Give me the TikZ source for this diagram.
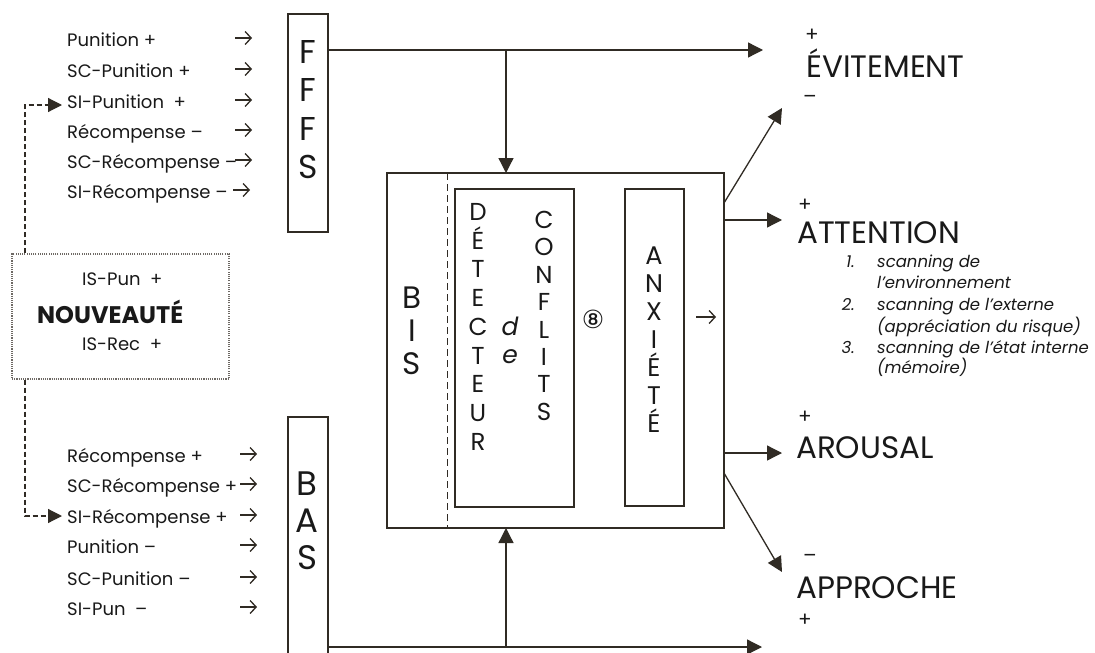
\documentclass[tikz,border=0pt]{standalone}
\usepackage{fontspec}
\setmainfont{Poppins}
\newfontfamily\dejavu{DejaVu Sans}
\usetikzlibrary{arrows.meta}
\definecolor{ink}{RGB}{48,43,36}
\definecolor{txt}{RGB}{25,25,25}
\definecolor{dotc}{RGB}{110,105,100}
\begin{document}
\begin{tikzpicture}[x=1pt,y=-1pt,
  box/.style={draw=ink,line width=1.3pt,inner sep=0pt,outer sep=0pt},
  arr/.style={draw=ink,line width=1.3pt,-{Triangle[length=15pt,width=15pt]}},
  sarr/.style={draw=ink,line width=1.3pt,-{Straight Barb[length=6pt,width=13pt,line width=1.3pt]}},
  dsh/.style={draw=ink,line width=1.2pt,dash pattern=on 5pt off 3pt,-{Triangle[length=14pt,width=14pt]}},
  lst/.style={text=txt,inner sep=0pt,anchor=base west,font=\fontsize{18}{20}\selectfont},
  stk/.style={text=txt,inner sep=0pt,anchor=base},
  big/.style={text=txt,inner sep=0pt,anchor=base west,font=\fontsize{31}{33}\selectfont},
  sgn/.style={text=txt,inner sep=0pt,font=\fontsize{20}{22}\selectfont},
  itl/.style={text=txt,inner sep=0pt,font=\itshape\fontsize{16.5}{19}\selectfont}
]
\fill[white] (0,0) rectangle (1095,653);
\useasboundingbox (0,0) rectangle (1095,653);

% main boxes
\node[box,minimum width=40pt,minimum height=218pt] (fffs) at (308,123) {};
\node[box,minimum width=40pt,minimum height=253pt] (bas) at (308,543.5) {};
\node[box,minimum width=337pt,minimum height=355pt] (bigb) at (555.5,350.5) {};
\node[box,minimum width=119pt,minimum height=318pt] (det) at (514.5,348) {};
\node[box,minimum width=59pt,minimum height=317pt] (anx) at (654.5,347.5) {};
\node[draw=dotc,line width=1.1pt,dash pattern=on 1.1pt off 1.1pt,inner sep=0pt,
      minimum width=217pt,minimum height=125pt] (nouv) at (120.5,316.5) {};

% BIS dashed separator
\coordinate (bisx) at (447,0);
\draw[draw=ink,line width=1pt,dash pattern=on 7pt off 4pt] (bisx |- bigb.north) -- (bisx |- bigb.south);

% stacked letters
\foreach \ch [count=\i from 0] in {F,F,F,S}
  \node[stk,font=\fontsize{33}{34}\selectfont] (ff\i) at (308,{63.5+38.3*\i}) {\ch};
\foreach \ch [count=\i from 0] in {B,A,S}
  \node[stk,font=\fontsize{34}{35}\selectfont] (ba\i) at (307,{495+37*\i}) {\ch};
\foreach \ch [count=\i from 0] in {B,I,S}
  \node[stk,font=\fontsize{31}{32}\selectfont] (bi\i) at (412,{308+33*\i}) {\ch};
\foreach \ch [count=\i from 0] in {D,É,T,E,C,T,E,U,R}
  \node[stk,font=\fontsize{24.5}{26}\selectfont] (dt\i) at (478,{220.5+28.7*\i}) {\ch};
\foreach \ch [count=\i from 0] in {C,O,N,F,L,I,T,S}
  \node[stk,font=\fontsize{24.5}{26}\selectfont] (cf\i) at (544,{228.5+27.4*\i}) {\ch};
\foreach \ch [count=\i from 0] in {A,N,X,I,É,T,É}
  \node[stk,font=\fontsize{25.5}{27}\selectfont] (ax\i) at (654,{264+28*\i}) {\ch};
\node[stk,font=\itshape\fontsize{25}{26}\selectfont] (dd) at (510,335) {d};
\node[stk,font=\itshape\fontsize{25}{26}\selectfont] (ee) at (510,363) {e};
\node[text=txt,inner sep=0pt,font=\dejavu\fontsize{25}{26}\selectfont] (huit) at (593,319) {⑧};
\coordinate (anxarr) at (706,317);
\draw[sarr] ([xshift=-10pt]anxarr) -- ([xshift=10pt]anxarr);

% left lists
\foreach \yy/\tx/\ax [count=\i] in {46/Punition +/243.5,77/SC-Punition +/243.5,108/SI-Punition \ +/243.5,138/Récompense –/243.5,168/SC-Récompense –/243.5,198/SI-Récompense – /241.5}{
  \node[lst] (t\i) at (67,\yy) {\tx};
  \coordinate (ta\i) at (\ax,{\yy-8});
  \draw[sarr] ([xshift=-8.5pt]ta\i) -- ([xshift=8.5pt]ta\i);
}
\foreach \yy/\tx [count=\i] in {462/Récompense +,492/SC-Récompense +,523/SI-Récompense +,553/Punition –,585/SC-Punition –,615/SI-Pun \ –}{
  \node[lst] (b\i) at (67,\yy) {\tx};
  \coordinate (tb\i) at (248.5,{\yy-8});
  \draw[sarr] ([xshift=-8.5pt]tb\i) -- ([xshift=8.5pt]tb\i);
}

% nouveaute text
\node[lst] (ispun) at (82,285) {IS-Pun \ +};
\node[lst,font=\bfseries\fontsize{24}{26}\selectfont] (nv) at (37,323) {NOUVEAUTÉ};
\node[lst] (isrec) at (82,350) {IS-Rec \ +};

% dashed feedback connectors
\coordinate (dt) at (62,105);
\coordinate (db) at (62,516);
\coordinate (dx) at (25,0);
\draw[dsh] (dx |- nouv.north) -- (dx |- dt) -- (dt);
\draw[dsh] (dx |- nouv.south) -- (dx |- db) -- (db);

% FFFS and BAS connectors
\coordinate (evtip) at (763,50);
\coordinate (tj) at (506,50);
\draw[arr] (fffs.east |- evtip) -- (evtip);
\draw[arr] (tj) -- (tj |- bigb.north);
\coordinate (aptip) at (762,647);
\coordinate (bj) at (506,647);
\draw[arr] (bas.east |- aptip) -- (aptip);
\draw[arr] (bj) -- (bj |- bigb.south);

% outputs
\coordinate (o1) at (782,108);
\coordinate (o2) at (782,220);
\coordinate (o3) at (782,453);
\coordinate (o4) at (782,572);
\draw[arr] ([yshift=-30pt]bigb.north east) -- (o1);
\draw[arr] ([yshift=-47pt]bigb.north east) -- (o2);
\draw[arr] ([yshift=75pt]bigb.south east) -- (o3);
\draw[arr] ([yshift=55pt]bigb.south east) -- (o4);

% right labels
\node[sgn] (p1) at (812,35) {+};
\node[big] (evit) at (806,77) {ÉVITEMENT};
\node[sgn] (m1) at (810,99) {–};
\node[sgn] (p2) at (805,205) {+};
\node[big] (att) at (797,243) {ATTENTION};
\node[itl,anchor=base east] (n1) at (855,267) {1.};
\node[itl,anchor=base west] (l1) at (877,267) {scanning de};
\node[itl,anchor=base west] (l2) at (877,288) {l’environnement};
\node[itl,anchor=base east] (n2) at (855,310) {2.};
\node[itl,anchor=base west] (l3) at (877,310) {scanning de l’externe};
\node[itl,anchor=base west] (l4) at (877,332) {(appréciation du risque)};
\node[itl,anchor=base east] (n3) at (855,353) {3.};
\node[itl,anchor=base west] (l5) at (877,353) {scanning de l’état interne};
\node[itl,anchor=base west] (l6) at (877,373) {(mémoire)};
\node[sgn] (p3) at (805,417) {+};
\node[big] (aro) at (796,458) {AROUSAL};
\node[sgn] (m2) at (810,558) {–};
\node[big] (app) at (796,598) {APPROCHE};
\node[sgn] (p4) at (805,620) {+};
\end{tikzpicture}
\end{document}
